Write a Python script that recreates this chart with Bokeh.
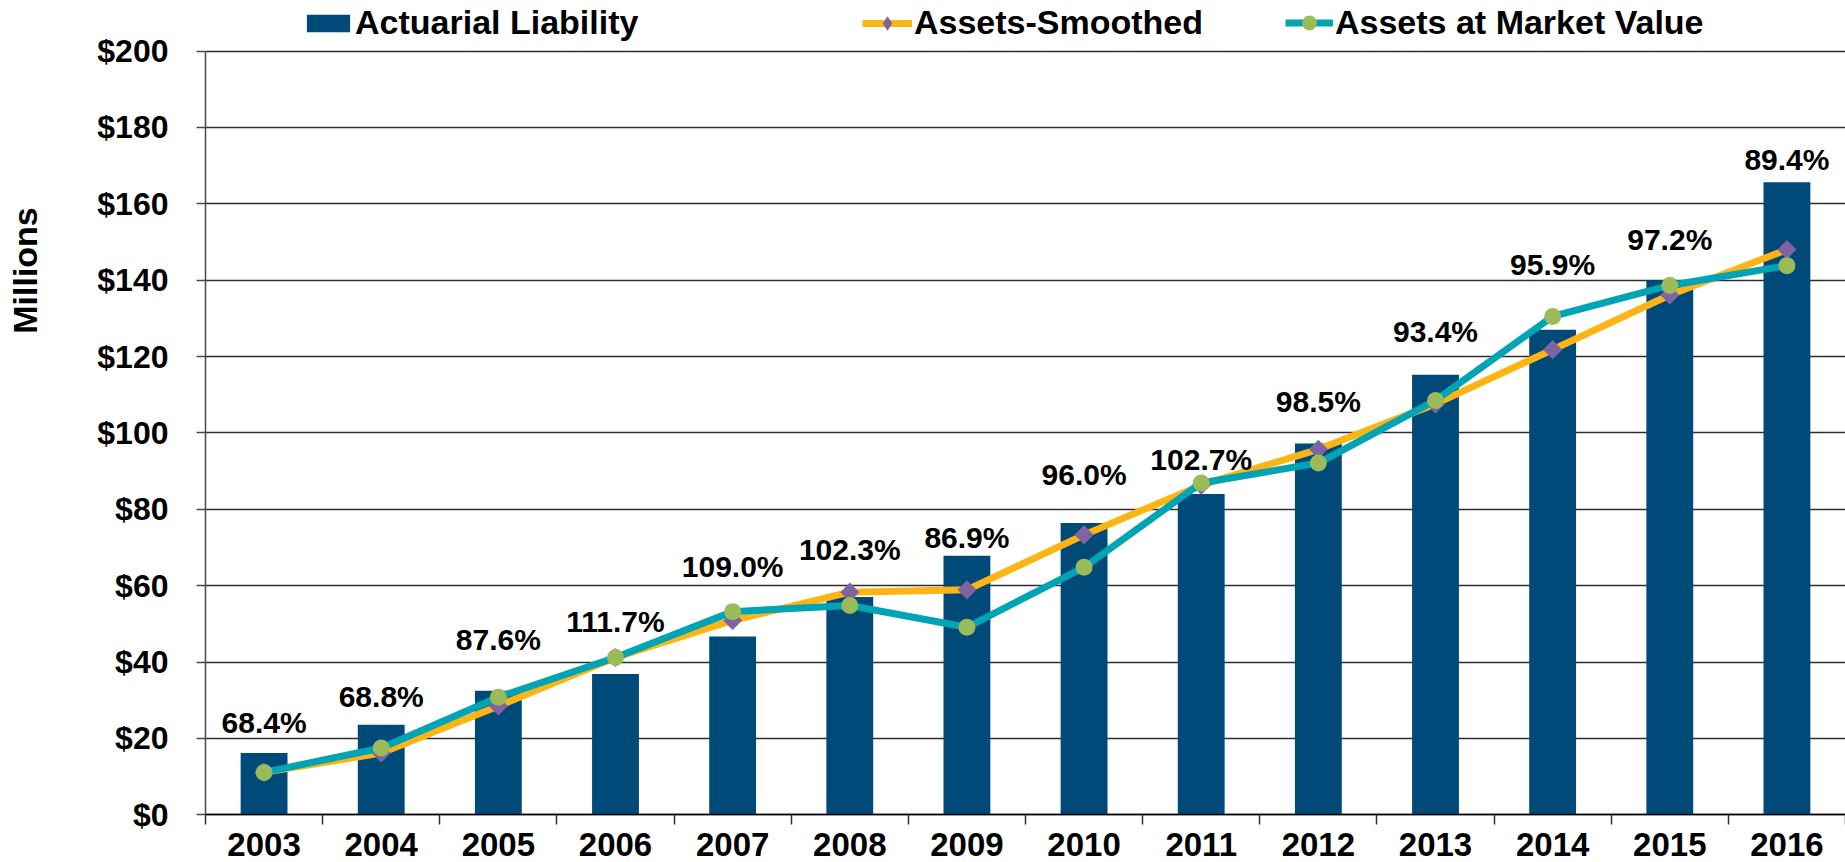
import math
from bokeh.plotting import figure
from bokeh.models import (ColumnDataSource, FixedTicker, NumeralTickFormatter,
                          Legend, LegendItem, Label, Range1d, Grid)
from bokeh.embed import file_html
from bokeh.resources import INLINE
from bokeh.core.properties import value

# ---------------- data ----------------
years = ["2003", "2004", "2005", "2006", "2007", "2008", "2009",
         "2010", "2011", "2012", "2013", "2014", "2015", "2016"]
actuarial_liability = [16.2, 23.6, 32.5, 36.9, 46.7, 57.0, 67.8,
                       76.4, 84.0, 97.2, 115.2, 127.0, 140.0, 165.6]
assets_smoothed = [11.1, 16.2, 28.5, 41.2, 50.9, 58.3, 58.9,
                   73.3, 86.3, 95.7, 107.6, 121.8, 136.1, 148.0]
assets_market = [11.1, 17.5, 30.8, 41.2, 53.2, 54.8, 49.1,
                 64.8, 86.9, 92.1, 108.5, 130.5, 138.6, 143.8]
funded_ratio = ["68.4%", "68.8%", "87.6%", "111.7%", "109.0%", "102.3%", "86.9%",
                "96.0%", "102.7%", "98.5%", "93.4%", "95.9%", "97.2%", "89.4%"]
ratio_label_level = [24.1, 31.1, 45.9, 50.7, 65.1, 69.5, 72.5,
                     89.1, 93.0, 108.3, 126.6, 144.1, 150.6, 171.6]
y_ticks = [0, 20, 40, 60, 80, 100, 120, 140, 160, 180, 200]

# ---------------- style / layout ----------------
FONT = "Liberation Sans"
BAR = "#004A79"
ORANGE = "#FDB515"
TEAL = "#00A4B4"
PURPLE = "#8064A2"
GREEN = "#9BBB59"
GRID = "#2e2e2e"

W, H = 1845, 862
AXIS_X_PX = 205.0      # y-axis line, px from left
TOP_PX = 50.5          # top tick line, px from top
ZERO_PX = 814.3        # zero line, px from top

n = len(years)
band = (W - AXIS_X_PX) / n
x_lo = -0.5 - AXIS_X_PX / band
x_hi = n - 0.5
px_per_unit = (ZERO_PX - TOP_PX) / (y_ticks[-1] - y_ticks[0])
y_hi = y_ticks[-1] + TOP_PX / px_per_unit
y_lo = y_ticks[0] - (H - ZERO_PX) / px_per_unit

xs = list(range(n))
src = ColumnDataSource(dict(x=xs, year=years, liability=actuarial_liability,
                            smoothed=assets_smoothed, market=assets_market,
                            ratio=funded_ratio, label_y=ratio_label_level))

p = figure(width=W, height=H, output_backend="svg", toolbar_location=None,
           x_range=Range1d(x_lo, x_hi), y_range=Range1d(y_lo, y_hi),
           min_border=0)
p.outline_line_color = None
p.background_fill_color = "white"
p.border_fill_color = "white"

# x axis: labels at category centres, tick marks at category boundaries
p.xaxis.fixed_location = 0
p.xaxis.bounds = (-0.5, n - 0.5)
p.xaxis.ticker = FixedTicker(ticks=xs, minor_ticks=[i - 0.5 for i in range(n + 1)])
p.xaxis.major_label_overrides = {i: y for i, y in enumerate(years)}
p.xaxis.major_tick_out = 0
p.xaxis.major_tick_in = 0
p.xaxis.minor_tick_out = 10
p.xaxis.minor_tick_in = 0
p.xaxis.minor_tick_line_color = "#333333"
p.xaxis.minor_tick_line_width = 1.5
p.xaxis.axis_line_color = "black"
p.xaxis.axis_line_width = 1.5
p.xaxis.major_label_text_font = FONT
p.xaxis.major_label_text_font_size = "33px"
p.xaxis.major_label_text_font_style = "bold"
p.xaxis.major_label_text_color = "black"
p.xaxis.major_label_standoff = 8

# y axis
p.yaxis.fixed_location = -0.5
p.yaxis.bounds = (y_ticks[0], y_ticks[-1])
p.yaxis.ticker = FixedTicker(ticks=y_ticks)
p.yaxis.formatter = NumeralTickFormatter(format="$0")
p.yaxis.major_tick_out = 9
p.yaxis.major_tick_in = 0
p.yaxis.minor_tick_line_color = None
p.yaxis.axis_line_color = "#4a4a4a"
p.yaxis.axis_line_width = 1.5
p.yaxis.major_tick_line_color = "#4a4a4a"
p.yaxis.major_tick_line_width = 1.5
p.yaxis.major_label_standoff = 28
p.yaxis.major_label_text_font = FONT
p.yaxis.major_label_text_font_size = "32px"
p.yaxis.major_label_text_font_style = "bold"
p.yaxis.major_label_text_color = "black"

p.xgrid.visible = False
p.ygrid.ticker = FixedTicker(ticks=y_ticks)
p.ygrid.grid_line_color = GRID
p.ygrid.grid_line_width = 1.4
if "cross_bounds" in Grid.properties():
    p.ygrid.cross_bounds = (-0.5, n - 0.5)
else:
    p.ygrid.visible = False
    p.segment(x0=[-0.5] * len(y_ticks), x1=[n - 0.5] * len(y_ticks),
              y0=y_ticks, y1=y_ticks, line_color=GRID, line_width=1.4)

# ---------------- marks ----------------
r_bar = p.vbar(x="x", top="liability", width=0.4, source=src,
               fill_color=BAR, line_color=None)
r_sl = p.line("x", "smoothed", source=src, line_color=ORANGE, line_width=7)
# small diamond used as the legend key; hidden under the rotated squares
k_sm = p.scatter("x", "smoothed", source=src, marker="diamond", size=9,
                 fill_color=PURPLE, line_color=None)
r_sm = p.scatter("x", "smoothed", source=src, marker="square", angle=math.pi / 4,
                 size=13.5, fill_color=PURPLE, line_color=None)
r_ml = p.line("x", "market", source=src, line_color=TEAL, line_width=7)
r_mm = p.scatter("x", "market", source=src, marker="circle", size=17,
                 fill_color=GREEN, line_color=None)

p.text(x="x", y="label_y", text="ratio", source=src,
       text_font=value(FONT), text_font_size="30px", text_font_style="bold",
       text_align="center", text_baseline="middle", text_color="black")

# ---------------- legends ----------------
LEG_Y = H - 42


def add_legend(label, renderers, vx, gw, gh, standoff):
    leg = Legend(items=[LegendItem(label=label, renderers=renderers)],
                 location=(vx, LEG_Y), orientation="horizontal",
                 glyph_width=gw, glyph_height=gh, label_standoff=standoff,
                 padding=0, margin=0, spacing=0,
                 border_line_color=None, background_fill_alpha=0,
                 label_text_font=FONT, label_text_font_size="34px",
                 label_text_font_style="bold", label_text_color="black")
    p.add_layout(leg, "center")


add_legend("Actuarial Liability", [r_bar], 301, 54, 22, 0)
add_legend("Assets-Smoothed", [r_sl, k_sm], 862, 50, 36, 2)
add_legend("Assets at Market Value", [r_ml, r_mm], 1285, 48, 37, 2)

p.add_layout(Label(x=24, y=H - 270, x_units="screen", y_units="screen",
                   text="Millions", angle=math.pi / 2,
                   text_align="center", text_baseline="middle",
                   text_font=FONT, text_font_size="34px",
                   text_font_style="bold", text_color="black"))

open("out.html", "w").write(file_html(p, INLINE))
